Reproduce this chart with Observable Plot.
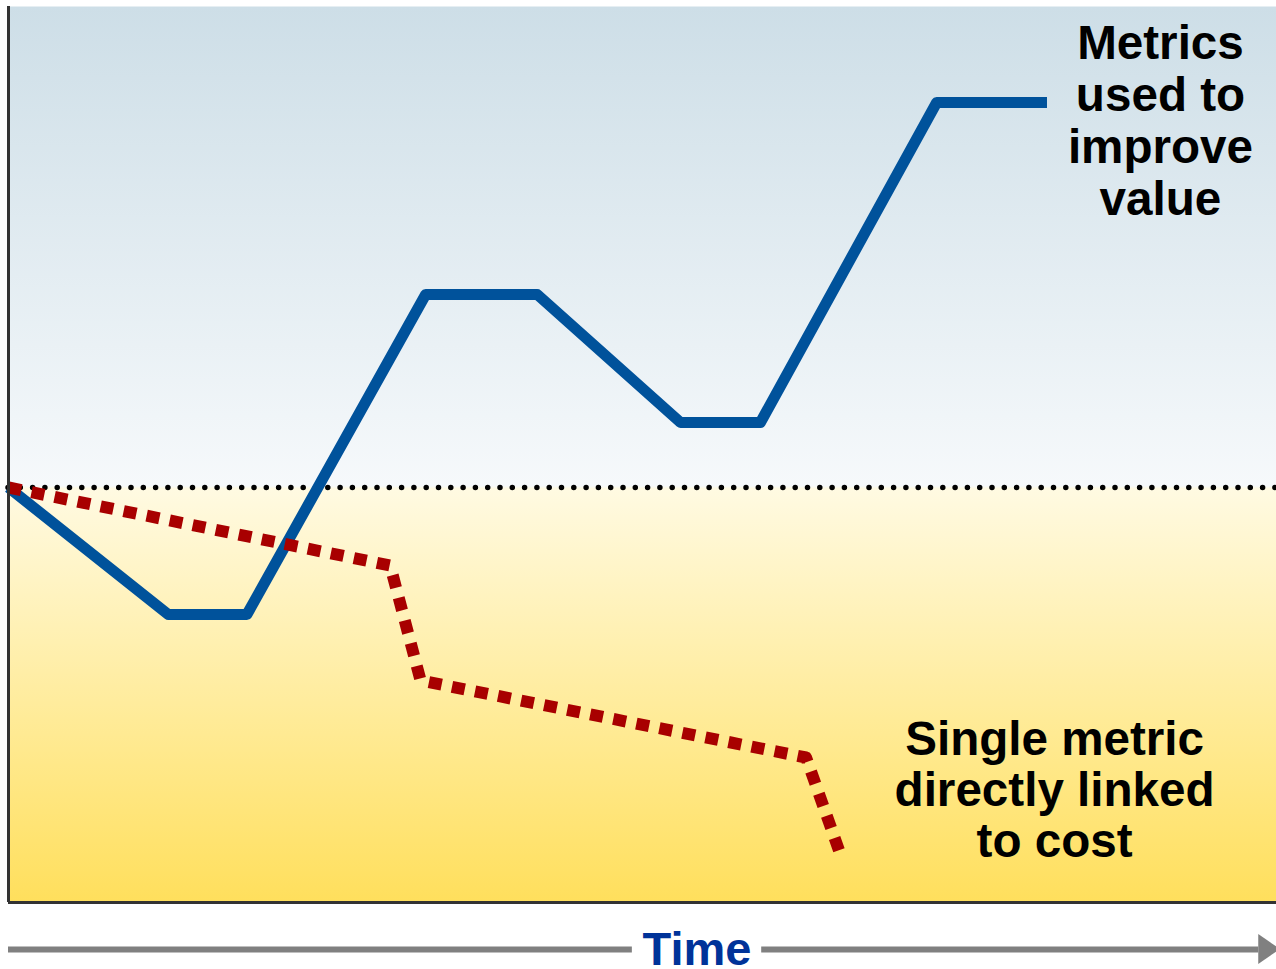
<!DOCTYPE html>
<html>
<head>
<meta charset="utf-8">
<script src="https://cdn.jsdelivr.net/npm/d3@7"></script>
<script src="https://cdn.jsdelivr.net/npm/@observablehq/plot@0.6"></script>
<style>
  html, body { margin: 0; padding: 0; background: #fff; }
  #chart svg { display: block; }
</style>
</head>
<body>
<div id="chart"></div>
<script>
// Time axis (0–100) and relative value (0 = baseline)
const valueTime = [0, 12.6, 18.8, 32.9, 41.7, 53.0, 59.3, 73.2, 81.9];
const valueLevel = [0, -1.27, -1.27, 1.93, 1.93, 0.65, 0.65, 3.85, 3.85];

const costTime = [0, 30.1, 32.5, 62.9, 65.5];
const costLevel = [0, -0.78, -1.93, -2.70, -3.63];

const labelValue = "Metrics\nused to\nimprove\nvalue";
const labelCost = "Single metric\ndirectly linked\nto cost";
const axisLabel = "Time";

const yMin = -4.15, yMax = 4.81;
const timeLineY = -4.62;
const timeSegments = [
  {x1: 0, x2: 49.2, y: timeLineY},
  {x1: 59.4, x2: 98.6, y: timeLineY}
];
const arrowHead = [
  {x: 98.6, y1: -4.47, y2: -4.77},
  {x: 100.3, y1: -4.62, y2: -4.62}
];

const blueData = valueTime.map((t, i) => ({t, v: valueLevel[i]}));
const redData = costTime.map((t, i) => ({t, v: costLevel[i]}));

const font = "'Liberation Sans', Arial, Helvetica, sans-serif";

const plot = Plot.plot({
  width: 1276,
  height: 969,
  marginLeft: 8,
  marginRight: 0,
  marginTop: 6,
  marginBottom: 67,
  x: {domain: [0, 100], axis: null},
  y: {domain: [yMin, yMax], axis: null},
  style: {fontFamily: font, background: "#fff", overflow: "visible"},
  marks: [
    Plot.frame({fill: "url(#bgGrad)", stroke: "none"}),
    Plot.ruleY([0], {stroke: "#000", strokeWidth: 5.5, strokeDasharray: "0 12.3", strokeLinecap: "round"}),
    Plot.line(blueData, {x: "t", y: "v", stroke: "#00529b", strokeWidth: 11, strokeLinejoin: "round", strokeLinecap: "butt"}),
    Plot.line(redData, {x: "t", y: "v", stroke: "#a80000", strokeWidth: 12, strokeDasharray: "13 10.5", strokeLinejoin: "round", strokeLinecap: "butt"}),
    Plot.ruleX([0], {stroke: "#333", strokeWidth: 3}),
    Plot.ruleY([yMin], {stroke: "#333", strokeWidth: 3}),
    Plot.ruleY(timeSegments, {y: "y", x1: "x1", x2: "x2", stroke: "#808080", strokeWidth: 6}),
    Plot.areaY(arrowHead, {x: "x", y1: "y1", y2: "y2", fill: "#808080"}),
    Plot.text([axisLabel], {x: 54.3, y: timeLineY, text: d => d, fontSize: 47, fontWeight: "bold", fill: "#003399", textAnchor: "middle", lineAnchor: "middle"}),
    Plot.text([labelValue], {x: 90.85, y: 3.67, text: d => d, fontSize: 47.6, fontWeight: "bold", fill: "#000", textAnchor: "middle", lineAnchor: "middle", lineHeight: 1.09}),
    Plot.text([labelCost], {x: 82.5, y: -3.02, text: d => d, fontSize: 47.6, fontWeight: "bold", fill: "#000", textAnchor: "middle", lineAnchor: "middle", lineHeight: 1.075})
  ]
});

d3.select(plot).insert("defs", ":first-child").html(`
  <linearGradient id="bgGrad" x1="0" y1="0" x2="0" y2="1">
    <stop offset="0" stop-color="#cddee7"/>
    <stop offset="0.535" stop-color="#f6f9fb"/>
    <stop offset="0.538" stop-color="#fffae2"/>
    <stop offset="1" stop-color="#ffdf5c"/>
  </linearGradient>
`);

document.getElementById("chart").appendChild(plot);
</script>
</body>
</html>
